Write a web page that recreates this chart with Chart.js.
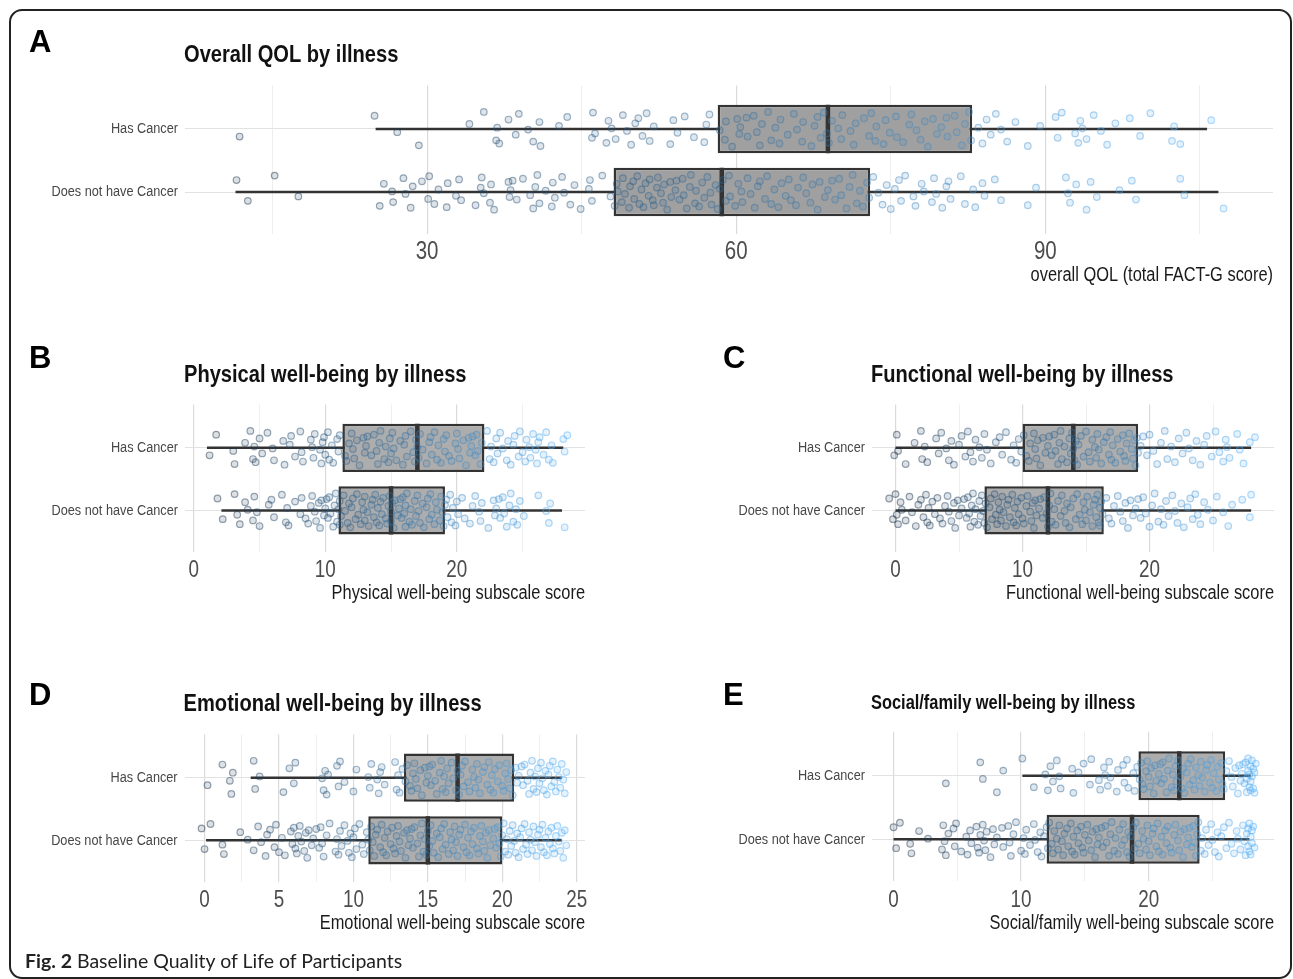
<!DOCTYPE html>
<html>
<head>
<meta charset="utf-8">
<script src="https://cdn.jsdelivr.net/npm/chart.js@4.4.1/dist/chart.umd.min.js"></script>
<style>
  body { margin: 0; background: #fff; width: 1293px; height: 979px; overflow: hidden; position: relative; }
  .frame { position: absolute; left: 9px; top: 9px; width: 1279px; height: 966px; border: 2px solid #222; border-radius: 13px; }
  canvas { position: absolute; }
  .tag { position: absolute; font: bold 31px 'Liberation Sans', Arial, sans-serif; line-height: 1; color: #000; }
  .caption { position: absolute; left: 25px; top: 949px; font: 19.5px Lato, 'Open Sans', sans-serif; color: #222; white-space: nowrap; }
  .caption b { font-weight: bold; }
</style>
</head>
<body>
<div class="frame"></div>
<canvas id="pA"></canvas>
<canvas id="pB"></canvas>
<canvas id="pC"></canvas>
<canvas id="pD"></canvas>
<canvas id="pE"></canvas>
<div class="tag" style="left:29px;top:26px">A</div>
<div class="tag" style="left:29px;top:342px">B</div>
<div class="tag" style="left:723px;top:342px">C</div>
<div class="tag" style="left:29px;top:679px">D</div>
<div class="tag" style="left:723px;top:679px">E</div>
<div class="caption"><b>Fig. 2</b> Baseline Quality of Life of Participants</div>

<script>
const CATS = ['Has Cancer', 'Does not have Cancer'];

// boxplot stats: [lower whisker, Q1, median, Q3, upper whisker]
const A_BOX_HAS = [25.0, 58.2, 68.9, 82.9, 105.7];
const A_BOX_NOT = [11.4, 48.1, 58.6, 73.0, 106.8];
const B_BOX_HAS = [1.0, 11.3, 17.0, 22.1, 28.1];
const B_BOX_NOT = [2.1, 11.0, 15.0, 19.1, 28.0];
const C_BOX_HAS = [0.0, 10.0, 14.0, 19.1, 28.0];
const C_BOX_NOT = [0.0, 7.0, 12.0, 16.4, 28.0];
const D_BOX_HAS = [3.1, 13.4, 17.0, 20.8, 24.0];
const D_BOX_NOT = [0.1, 11.0, 15.0, 20.0, 24.0];
const E_BOX_HAS = [10.1, 19.2, 22.4, 26.0, 28.0];
const E_BOX_NOT = [0.0, 12.0, 18.7, 24.0, 27.9];

// tick labels
const A_TICKS = [30, 60, 90];
const A_MINOR = [15, 45, 75, 105];
const SUB_TICKS = [0, 10, 20];
const SUB_MINOR = [5, 15, 25];
const D_TICKS = [0, 5, 10, 15, 20, 25];
const D_MINOR = [2.5, 7.5, 12.5, 17.5, 22.5];

// jittered participant scores (estimated from the dots)
const A_PTS_HAS = [11.8, 24.9, 27.1, 29.2, 34.1, 35.5, 36.7, 36.8, 37.0, 37.9, 38.6, 38.9, 39.8, 40.3, 40.9, 41.0, 42.8, 43.6, 46.0, 46.1, 46.3, 47.4, 47.6, 47.9, 48.3, 49.0, 49.4, 49.8, 50.2, 50.5, 50.9, 51.3, 51.6, 52.0, 53.6, 53.9, 54.3, 55.0, 55.9, 56.9, 57.1, 57.4,
  58.4, 58.9, 59.0, 59.6, 60.1, 60.3, 60.4, 61.0, 61.1, 61.7, 62.0, 62.3, 62.5, 63.1, 63.4, 63.8, 64.2, 64.3, 65.0, 65.6, 65.9, 66.4, 66.5, 67.3, 67.6, 67.9, 68.2, 68.5, 68.8, 69.0, 69.3, 69.9, 70.2, 70.3, 71.1, 71.4, 71.6, 72.4, 72.9, 73.1, 73.5, 73.6, 74.3, 74.5, 74.9, 75.5, 75.6, 76.2, 76.8, 77.0, 77.5, 77.9, 78.3, 78.6, 79.1, 79.5, 79.9, 80.4, 80.5, 81.2, 81.4, 81.9, 82.2, 82.6, 82.8,
  83.5, 83.9, 84.3, 84.7, 85.2, 85.7, 86.3, 87.1, 88.3, 89.5, 91.0, 91.2, 91.6, 92.9, 93.2, 93.4, 93.6, 94.0, 94.7, 95.4, 96.0, 96.8, 98.2, 99.2, 100.2, 102.3, 102.5, 103.1, 106.1];
const A_PTS_NOT = [11.5, 12.6, 15.2, 17.5, 25.4, 25.8, 26.6, 26.7, 27.7, 27.9, 28.4, 28.6, 29.5, 30.1, 30.2, 30.7, 31.1, 31.9, 32.0, 32.8, 33.1, 33.3, 34.7, 35.2, 35.3, 35.5, 36.1, 36.2, 36.5, 37.9, 38.0, 38.1, 38.3, 38.7, 39.3, 40.0, 40.3, 40.5, 40.7, 40.9, 41.5, 42.1, 42.2, 42.4, 43.1, 43.3, 43.9, 44.3, 44.9, 45.7, 45.8, 46.0, 47.0, 47.8,
  48.2, 48.4, 48.5, 48.9, 49.0, 49.2, 49.6, 49.7, 50.0, 50.1, 50.4, 50.6, 50.8, 51.0, 51.2, 51.5, 51.6, 51.9, 52.0, 52.3, 52.4, 52.7, 52.9, 53.0, 53.3, 53.6, 53.7, 54.1, 54.2, 54.5, 54.8, 54.9, 55.2, 55.5, 55.6, 56.0, 56.1, 56.4, 56.7, 56.9, 57.2, 57.5, 57.6, 58.0, 58.2, 58.4, 58.7, 59.0, 59.3, 59.4, 59.9, 60.2, 60.5, 60.6, 61.1, 61.4, 61.8, 62.1, 62.3, 62.8, 63.0, 63.4, 63.7, 64.1, 64.4, 64.8, 65.1, 65.3, 65.8, 66.0, 66.5, 66.8, 67.2, 67.4, 67.9, 68.1, 68.6, 68.9, 69.3, 69.6, 70.0, 70.2, 70.7, 71.0, 71.3, 71.7, 72.0, 72.3, 72.7, 72.9,
  73.3, 73.8, 74.2, 74.6, 75.0, 75.4, 75.8, 76.0, 76.4, 77.2, 77.4, 78.0, 78.2, 79.0, 79.2, 79.4, 80.0, 80.4, 80.6, 80.8, 81.8, 82.2, 83.0, 83.2, 83.9, 84.1, 85.1, 85.7, 88.3, 89.1, 92.0, 92.2, 92.4, 93.0, 94.0, 94.4, 95.0, 97.2, 98.4, 98.8, 103.1, 103.5, 107.3];

const B_PTS_HAS = [1.2, 1.7, 3.0, 3.1, 3.9, 4.3, 4.5, 4.6, 4.7, 5.0, 5.2, 5.6, 6.0, 6.1, 6.8, 6.9, 7.3, 7.4, 7.7, 8.1, 8.2, 8.3, 8.9, 9.0, 9.1, 9.2, 9.6, 9.7, 9.8, 9.9, 10.0, 10.2, 10.3, 10.5, 10.6, 10.9, 11.0, 11.1,
  11.5, 11.6, 11.8, 12.0, 12.1, 12.2, 12.4, 12.6, 12.9, 13.0, 13.1, 13.2, 13.5, 13.7, 13.9, 14.0, 14.1, 14.2, 14.5, 14.6, 14.8, 14.9, 15.0, 15.1, 15.2, 15.4, 15.7, 15.9, 16.0, 16.1, 16.2, 16.5, 16.7, 16.8, 16.9, 17.0, 17.1, 17.2, 17.4, 17.7, 17.9, 18.0, 18.1, 18.3, 18.5, 18.6, 18.8, 19.0, 19.1, 19.2, 19.4, 19.6, 19.9, 20.0, 20.1, 20.2, 20.5, 20.7, 20.9, 21.0, 21.1, 21.2, 21.4, 21.5, 21.6, 21.8, 21.9,
  22.3, 22.5, 22.6, 22.8, 23.0, 23.1, 23.3, 23.5, 23.8, 23.9, 24.1, 24.3, 24.4, 24.7, 24.8, 25.0, 25.2, 25.3, 25.5, 25.6, 25.8, 26.0, 26.1, 26.2, 26.3, 26.6, 26.8, 27.0, 27.2, 27.3, 28.1, 28.2, 28.4];
const B_PTS_NOT = [1.8, 2.2, 3.1, 3.3, 3.5, 3.9, 4.1, 4.5, 4.6, 4.8, 5.0, 5.7, 5.9, 6.1, 6.7, 7.0, 7.1, 7.2, 7.7, 8.1, 8.2, 8.5, 8.7, 8.9, 9.0, 9.2, 9.3, 9.5, 9.6, 9.7, 9.9, 10.0, 10.1, 10.2, 10.3, 10.4, 10.6, 10.7, 10.8, 10.9,
  11.0, 11.1, 11.1, 11.2, 11.4, 11.5, 11.7, 11.8, 11.9, 12.0, 12.1, 12.3, 12.4, 12.5, 12.7, 12.8, 12.9, 13.0, 13.0, 13.2, 13.3, 13.5, 13.6, 13.7, 13.8, 13.9, 14.0, 14.1, 14.2, 14.3, 14.4, 14.6, 14.7, 14.8, 14.9, 15.0, 15.0, 15.1, 15.2, 15.3, 15.5, 15.6, 15.7, 15.8, 15.9, 16.0, 16.1, 16.1, 16.2, 16.4, 16.5, 16.6, 16.8, 16.9, 17.0, 17.1, 17.2, 17.4, 17.5, 17.7, 17.8, 17.9, 18.0, 18.1, 18.3, 18.4, 18.5, 18.7, 18.8, 18.9, 19.0,
  19.1, 19.2, 19.3, 19.5, 19.6, 19.7, 19.9, 20.0, 20.1, 20.4, 20.6, 21.0, 21.2, 21.4, 21.7, 21.8, 21.9, 22.4, 22.8, 22.9, 23.0, 23.2, 23.3, 23.5, 23.6, 23.8, 24.0, 24.1, 24.3, 24.5, 24.6, 24.8, 25.1, 26.2, 26.8, 27.0, 27.1, 28.2];

const C_PTS_HAS = [-0.1, 0.1, 0.2, 0.8, 1.5, 2.0, 2.1, 2.3, 2.5, 3.2, 3.4, 3.6, 4.0, 4.2, 4.4, 4.6, 5.0, 5.2, 5.5, 5.7, 5.9, 6.1, 6.3, 6.6, 6.8, 7.0, 7.2, 7.5, 7.9, 8.2, 8.4, 8.7, 9.1, 9.3, 9.5, 9.7, 9.9,
  10.1, 10.3, 10.5, 10.6, 10.9, 11.0, 11.1, 11.2, 11.4, 11.6, 11.8, 12.0, 12.1, 12.3, 12.5, 12.6, 12.8, 12.9, 13.0, 13.1, 13.3, 13.5, 13.7, 13.8, 13.9, 14.0, 14.1, 14.2, 14.3, 14.4, 14.6, 14.8, 15.0, 15.2, 15.3, 15.5, 15.7, 15.8, 15.9, 16.0, 16.2, 16.4, 16.6, 16.8, 16.9, 17.0, 17.1, 17.3, 17.5, 17.7, 17.9, 18.0, 18.1, 18.2, 18.4, 18.6, 18.7, 18.8, 18.9, 19.0,
  19.1, 19.3, 19.5, 19.8, 20.0, 20.3, 20.6, 20.9, 21.2, 21.4, 21.7, 22.0, 22.3, 22.6, 22.9, 23.1, 23.4, 23.7, 24.0, 24.3, 24.5, 24.9, 25.2, 25.5, 25.8, 26.0, 26.1, 26.3, 26.9, 27.1, 27.4, 27.9, 28.3];
const C_PTS_NOT = [-0.5, -0.2, 0.0, 0.1, 0.2, 0.4, 0.5, 0.8, 1.1, 1.3, 1.6, 1.8, 2.0, 2.2, 2.4, 2.5, 2.6, 2.7, 2.9, 3.1, 3.3, 3.5, 3.7, 3.9, 4.1, 4.2, 4.4, 4.6, 4.7, 4.9, 5.0, 5.2, 5.4, 5.6, 5.7, 5.8, 5.9, 6.0, 6.1, 6.2, 6.3, 6.5, 6.6, 6.7, 6.8, 6.9,
  7.0, 7.1, 7.2, 7.4, 7.5, 7.6, 7.8, 7.9, 8.0, 8.1, 8.2, 8.3, 8.4, 8.5, 8.7, 8.8, 8.9, 9.0, 9.2, 9.3, 9.4, 9.5, 9.6, 9.7, 9.9, 10.0, 10.1, 10.3, 10.4, 10.6, 10.7, 10.8, 10.9, 11.0, 11.1, 11.3, 11.4, 11.6, 11.7, 11.9, 12.0, 12.1, 12.2, 12.3, 12.5, 12.6, 12.8, 13.0, 13.1, 13.3, 13.4, 13.5, 13.7, 13.8, 14.0, 14.2, 14.3, 14.5, 14.7, 14.8, 14.9, 15.0, 15.1, 15.3, 15.5, 15.6, 15.7, 15.8, 15.9, 16.0, 16.1, 16.1, 16.2, 16.3,
  16.6, 16.8, 17.0, 17.2, 17.5, 17.7, 17.9, 18.1, 18.3, 18.5, 18.7, 18.9, 19.1, 19.3, 19.5, 19.7, 20.0, 20.2, 20.4, 20.7, 20.9, 21.1, 21.3, 21.5, 21.8, 22.0, 22.2, 22.5, 22.7, 23.0, 23.2, 23.4, 23.6, 23.8, 24.0, 24.3, 24.6, 25.0, 25.3, 25.8, 26.2, 26.5, 27.3, 27.9, 28.0];

const D_PTS_HAS = [0.2, 1.2, 1.7, 1.8, 1.9, 3.3, 3.4, 3.7, 5.3, 5.7, 6.0, 6.1, 7.9, 8.0, 8.1, 8.2, 8.3, 8.9, 9.0, 9.1, 9.4, 10.0, 10.2, 11.0, 11.1, 11.2, 11.6, 11.7, 11.8, 11.9, 12.1, 12.8, 12.9, 13.0, 13.1, 13.3,
  13.5, 13.6, 13.8, 13.9, 14.0, 14.1, 14.2, 14.3, 14.5, 14.6, 14.8, 14.9, 15.0, 15.1, 15.2, 15.3, 15.5, 15.6, 15.8, 15.9, 16.0, 16.1, 16.2, 16.3, 16.4, 16.6, 16.7, 16.9, 17.0, 17.1, 17.2, 17.3, 17.4, 17.5, 17.7, 17.8, 18.0, 18.1, 18.2, 18.3, 18.4, 18.5, 18.7, 18.8, 19.0, 19.1, 19.2, 19.3, 19.4, 19.5, 19.7, 19.8, 20.0, 20.1, 20.2, 20.3, 20.4, 20.5, 20.6, 20.7,
  20.9, 21.0, 21.1, 21.3, 21.4, 21.5, 21.7, 21.8, 21.9, 22.0, 22.1, 22.2, 22.3, 22.4, 22.5, 22.6, 22.7, 22.8, 22.9, 23.0, 23.1, 23.2, 23.3, 23.4, 23.5, 23.6, 23.7, 23.8, 23.9, 24.0, 24.1, 24.2, 24.3];
const D_PTS_NOT = [-0.2, 0.0, 0.4, 1.2, 1.3, 2.4, 2.9, 3.3, 3.6, 3.8, 4.1, 4.2, 4.4, 4.7, 4.8, 5.0, 5.2, 5.4, 5.8, 5.9, 6.0, 6.1, 6.2, 6.3, 6.4, 6.5, 6.7, 6.8, 6.9, 7.0, 7.2, 7.3, 7.5, 7.7, 7.8, 7.9, 8.0, 8.2, 8.4, 8.8, 8.9, 9.0, 9.1, 9.2, 9.4, 9.6, 9.7, 9.8, 9.9, 10.0, 10.1, 10.2, 10.4, 10.6, 10.7, 10.9,
  11.0, 11.1, 11.2, 11.3, 11.4, 11.5, 11.6, 11.8, 11.9, 12.0, 12.1, 12.2, 12.3, 12.5, 12.6, 12.7, 12.8, 12.9, 13.0, 13.1, 13.2, 13.4, 13.5, 13.6, 13.7, 13.8, 13.9, 14.0, 14.1, 14.3, 14.4, 14.5, 14.6, 14.7, 14.8, 14.9, 15.0, 15.1, 15.2, 15.3, 15.4, 15.6, 15.7, 15.8, 15.9, 16.0, 16.1, 16.2, 16.4, 16.5, 16.6, 16.7, 16.8, 16.9, 17.0, 17.1, 17.2, 17.4, 17.5, 17.6, 17.7, 17.8, 17.9, 18.0, 18.1, 18.3, 18.4, 18.5, 18.6, 18.7, 18.8, 18.9, 19.0, 19.1, 19.2, 19.4, 19.5, 19.6, 19.7, 19.8, 19.9,
  20.0, 20.1, 20.2, 20.3, 20.4, 20.5, 20.6, 20.7, 20.8, 20.9, 21.0, 21.1, 21.2, 21.3, 21.4, 21.5, 21.6, 21.7, 21.8, 21.9, 22.0, 22.1, 22.2, 22.3, 22.4, 22.5, 22.6, 22.7, 22.8, 22.9, 23.0, 23.1, 23.2, 23.3, 23.4, 23.5, 23.6, 23.7, 23.8, 23.9, 24.0, 24.1, 24.2, 24.3];

const E_PTS_HAS = [4.1, 6.8, 7.0, 8.1, 8.6, 10.1, 11.0, 11.9, 12.1, 12.3, 12.5, 12.8, 13.0, 13.1, 14.0, 14.1, 14.5, 14.9, 15.4, 15.5, 16.1, 16.2, 16.5, 16.6, 16.8, 16.9, 17.0, 17.5, 17.6, 18.0, 18.1, 18.3, 18.4, 18.8, 18.9, 19.1,
  19.3, 19.4, 19.5, 19.6, 19.8, 19.9, 20.0, 20.1, 20.2, 20.4, 20.5, 20.6, 20.8, 20.9, 21.0, 21.1, 21.2, 21.4, 21.5, 21.6, 21.8, 21.9, 22.0, 22.1, 22.2, 22.3, 22.5, 22.6, 22.7, 22.8, 23.0, 23.1, 23.2, 23.3, 23.5, 23.6, 23.7, 23.9, 24.0, 24.1, 24.2, 24.4, 24.5, 24.6, 24.8, 24.9, 25.0, 25.1, 25.3, 25.4, 25.5, 25.7, 25.8, 25.9,
  26.1, 26.3, 26.5, 26.6, 26.8, 27.0, 27.1, 27.2, 27.3, 27.4, 27.5, 27.6, 27.7, 27.7, 27.8, 27.8, 27.9, 27.9, 28.0, 28.0, 28.0, 28.1, 28.1, 28.2, 28.2, 28.3, 28.3, 28.4];
const E_PTS_NOT = [0.0, 0.2, 0.5, 1.3, 1.4, 2.0, 2.7, 3.8, 3.9, 4.0, 4.1, 4.3, 4.7, 4.8, 4.9, 5.3, 5.7, 5.8, 6.0, 6.1, 6.5, 6.6, 6.7, 6.8, 7.0, 7.1, 7.2, 7.3, 7.6, 7.8, 7.9, 8.1, 8.5, 8.6, 9.0, 9.1, 9.2, 9.4, 9.6, 10.0, 10.2, 10.3, 10.4, 10.7, 11.0, 11.1, 11.3, 11.5, 11.6, 11.8,
  12.0, 12.1, 12.2, 12.4, 12.5, 12.6, 12.8, 12.9, 13.0, 13.2, 13.3, 13.4, 13.6, 13.7, 13.9, 14.0, 14.1, 14.2, 14.4, 14.5, 14.7, 14.8, 14.9, 15.0, 15.2, 15.3, 15.5, 15.6, 15.8, 15.9, 16.0, 16.1, 16.3, 16.4, 16.6, 16.7, 16.9, 17.0, 17.1, 17.3, 17.4, 17.6, 17.7, 17.9, 18.0, 18.1, 18.3, 18.4, 18.5, 18.6, 18.8, 18.9, 19.0, 19.2, 19.3, 19.5, 19.6, 19.8, 19.9, 20.0, 20.1, 20.3, 20.4, 20.6, 20.7, 20.8, 21.0, 21.1, 21.3, 21.4, 21.5, 21.7, 21.8, 22.0, 22.1, 22.3, 22.4, 22.5, 22.7, 22.8, 23.0, 23.1, 23.2, 23.4, 23.5, 23.6, 23.7, 23.8, 23.9,
  24.1, 24.2, 24.4, 24.5, 24.7, 24.9, 25.0, 25.2, 25.4, 25.5, 25.7, 25.9, 26.1, 26.3, 26.5, 26.7, 26.9, 27.0, 27.2, 27.4, 27.5, 27.6, 27.7, 27.8, 27.8, 27.9, 27.9, 28.0, 28.0, 28.1, 28.1, 28.2, 28.3];

// fixed vertical jitter offsets (fraction of the row spacing)
const JITTER = [0.12, -0.21, 0.05, 0.26, -0.08, -0.27, 0.18, -0.02, 0.23, -0.15, 0.09, -0.24, 0.01, 0.20, -0.11, 0.27, -0.05, -0.19, 0.14, -0.26, 0.07, 0.22, -0.13, -0.01, 0.16, -0.22, 0.03, 0.25, -0.09, -0.17, 0.11, -0.25, 0.19, -0.04, 0.24, -0.14, 0.06, -0.20, 0.13, 0.21, -0.07, -0.23, 0.02, 0.17, -0.12, 0.28, -0.16, 0.08, -0.03, -0.18];

// no narrow font installed: draw Liberation Sans squeezed horizontally
const SANS = "'Liberation Sans', Arial, sans-serif";
const SX = 0.82;
const X_AXIS_H = 53;
const BOX_HALF = 0.385;
const LOW = [19, 43, 67], HIGH = [86, 177, 247];

function narrowText(ctx, text, x, y, size, weight, color, align) {
  ctx.save();
  ctx.translate(x, y);
  ctx.scale(SX, 1);
  ctx.font = weight + ' ' + size + 'px ' + SANS;
  ctx.fillStyle = color;
  ctx.textAlign = align;
  ctx.textBaseline = 'middle';
  ctx.fillText(text, 0, 0);
  ctx.restore();
}

// titles, category labels, tick labels and axis title, placed from the chart's scales
const panelText = {
  id: 'panelText',
  afterDraw(chart, args, o) {
    const { ctx, chartArea: ca, scales: { x, y } } = chart;
    narrowText(ctx, o.title, ca.left - 1, o.titleY, o.titleSize, 'bold', '#111', 'left');
    CATS.forEach((c, i) => narrowText(ctx, c, ca.left - 7, y.getPixelForValue(i + 1), 15.5, 'normal', '#474747', 'right'));
    o.ticks.forEach(v => narrowText(ctx, String(v), x.getPixelForValue(v), ca.bottom + 19, o.tickSize, 'normal', '#4d4d4d', 'center'));
    narrowText(ctx, o.xTitle, ca.right, ca.bottom + 42, 20, 'normal', '#1a1a1a', 'right');
  }
};

const PANELS = [
  { id: 'pA', box: [0, 0, 1293, 300], plot: [185, 85.5, 1273, 233.6], xmin: 6.5, xmax: 112.1,
    ticks: A_TICKS, minor: A_MINOR, has: A_PTS_HAS, not: A_PTS_NOT, boxHas: A_BOX_HAS, boxNot: A_BOX_NOT,
    title: 'Overall QOL by illness', titleY: 55, titleSize: 24.5, xTitle: 'overall QOL (total FACT-G score)', tickSize: 25, fill: '#a0a0a0' },
  { id: 'pB', box: [0, 330, 650, 290], plot: [185, 404.6, 585, 551.7], xmin: -0.67, xmax: 29.75,
    ticks: SUB_TICKS, minor: SUB_MINOR, has: B_PTS_HAS, not: B_PTS_NOT, boxHas: B_BOX_HAS, boxNot: B_BOX_NOT,
    title: 'Physical well-being by illness', titleY: 375, titleSize: 24.5, xTitle: 'Physical well-being subscale score', tickSize: 23, fill: '#adadad' },
  { id: 'pC', box: [650, 330, 643, 290], plot: [872, 404.6, 1274, 551.7], xmin: -1.85, xmax: 29.8,
    ticks: SUB_TICKS, minor: SUB_MINOR, has: C_PTS_HAS, not: C_PTS_NOT, boxHas: C_BOX_HAS, boxNot: C_BOX_NOT,
    title: 'Functional well-being by illness', titleY: 375, titleSize: 24.5, xTitle: 'Functional well-being subscale score', tickSize: 23, fill: '#adadad' },
  { id: 'pD', box: [0, 660, 650, 290], plot: [184.6, 734.5, 585, 881.6], xmin: -1.34, xmax: 25.56,
    ticks: D_TICKS, minor: D_MINOR, has: D_PTS_HAS, not: D_PTS_NOT, boxHas: D_BOX_HAS, boxNot: D_BOX_NOT,
    title: 'Emotional well-being by illness', titleY: 704, titleSize: 24.5, xTitle: 'Emotional well-being subscale score', tickSize: 23, fill: '#adadad' },
  { id: 'pE', box: [650, 660, 643, 290], plot: [872, 731.8, 1274, 881.3], xmin: -1.69, xmax: 29.83,
    ticks: SUB_TICKS, minor: SUB_MINOR, has: E_PTS_HAS, not: E_PTS_NOT, boxHas: E_BOX_HAS, boxNot: E_BOX_NOT,
    title: 'Social/family well-being by illness', titleY: 703, titleSize: 20, xTitle: 'Social/family well-being subscale score', tickSize: 23, fill: '#adadad' }
];

function makePanel(p) {
  const cv = document.getElementById(p.id);
  const [cl, ct, cw, ch] = p.box;
  const [pl, pt, pr, pb] = p.plot;
  cv.width = cw; cv.height = ch;
  cv.style.left = cl + 'px'; cv.style.top = ct + 'px';
  cv.style.width = cw + 'px'; cv.style.height = ch + 'px';

  const all = p.has.concat(p.not);
  const lo = Math.min(...all), hi = Math.max(...all);
  const col = (v, a) => {
    const t = (v - lo) / (hi - lo);
    const c = LOW.map((l, i) => Math.round(l + t * (HIGH[i] - l)));
    return 'rgba(' + c.join(',') + ',' + a + ')';
  };

  const points = [];
  [p.has, p.not].forEach((g, gi) => g.forEach((v, i) => {
    points.push({ x: v, y: gi + 1 + JITTER[(i + gi * 17) % JITTER.length] });
  }));

  const stats = [p.boxHas, p.boxNot];
  const datasets = [
    { type: 'scatter', data: points, order: 0, pointRadius: 3.3, pointHoverRadius: 3.3, borderWidth: 1.2,
      backgroundColor: c => c.raw ? col(c.raw.x, 0.15) : 'transparent',
      borderColor: c => c.raw ? col(c.raw.x, 0.45) : 'transparent' },
    { type: 'bar', indexAxis: 'y', order: 2,
      data: stats.map((s, i) => ({ y: i + 1, x: [s[1], s[3]] })),
      backgroundColor: p.fill, borderColor: '#333', borderWidth: 2.5, borderSkipped: false,
      categoryPercentage: 1, barPercentage: 2 * BOX_HALF }
  ];
  stats.forEach((s, i) => {
    const r = i + 1;
    datasets.push({ type: 'line', order: 1, data: [{ x: s[2], y: r - BOX_HALF }, { x: s[2], y: r + BOX_HALF }],
      borderColor: '#333', borderWidth: 4.5, pointRadius: 0, borderCapStyle: 'butt' });
    datasets.push({ type: 'line', order: 3, data: [{ x: s[0], y: r }, { x: s[4], y: r }],
      borderColor: '#333', borderWidth: 2.5, pointRadius: 0 });
  });

  const majors = p.ticks;
  new Chart(cv, {
    type: 'scatter',
    data: { datasets },
    options: {
      responsive: false,
      animation: false,
      devicePixelRatio: 1,
      layout: { padding: { left: 0, top: pt - ct, right: cl + cw - pr, bottom: ct + ch - pb - X_AXIS_H } },
      plugins: {
        legend: { display: false },
        tooltip: { enabled: false },
        panelText: { title: p.title, titleY: p.titleY - ct, titleSize: p.titleSize, ticks: majors, tickSize: p.tickSize, xTitle: p.xTitle }
      },
      scales: {
        x: {
          type: 'linear', min: p.xmin, max: p.xmax, offset: false, beginAtZero: false,
          afterBuildTicks: a => { a.ticks = majors.concat(p.minor).sort((u, v) => u - v).map(v => ({ value: v })); },
          afterFit: a => { a.height = X_AXIS_H; },
          ticks: { display: false },
          grid: { drawTicks: false, offset: false,
            color: c => c.tick && majors.includes(c.tick.value) ? '#dadada' : '#ececec',
            lineWidth: c => c.tick && majors.includes(c.tick.value) ? 1.2 : 0.9 },
          border: { display: false }
        },
        y: {
          type: 'linear', reverse: true, min: 0.31, max: 2.66, offset: false,
          afterBuildTicks: a => { a.ticks = [{ value: 1 }, { value: 2 }]; },
          afterFit: a => { a.width = pl - cl; },
          ticks: { display: false },
          grid: { drawTicks: false, offset: false, color: '#e2e2e2', lineWidth: 1 },
          border: { display: false }
        }
      }
    },
    plugins: [panelText]
  });
}

PANELS.forEach(makePanel);
</script>
</body>
</html>
